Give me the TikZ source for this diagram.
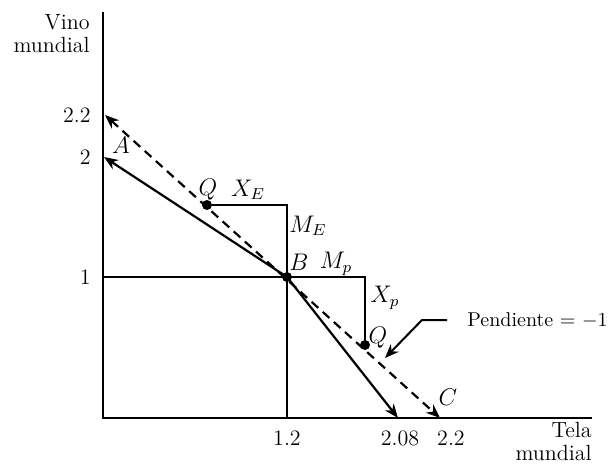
\documentclass[tikz,border=0pt]{standalone}
\usepackage{amsmath}
\usepackage{tikz}
\usetikzlibrary{positioning,arrows.meta,calc}
\tikzset{
  axis/.style={line width=1.1pt},
  guide/.style={line width=0.7pt},
  ar/.style={-{Stealth[length=7pt,width=5.5pt]},line width=1.1pt},
  dar/.style={{Stealth[length=7pt,width=5.5pt]}-{Stealth[length=7pt,width=5.5pt]},line width=1.1pt,dash pattern=on 4.5pt off 3pt},
  tick/.style={font=\fontsize{11}{12}\selectfont,inner sep=1pt},
  lab/.style={font=\fontsize{11}{11.5}\selectfont,inner sep=1pt},
  mlab/.style={font=\large,inner sep=1pt},
  pt/.style={circle,fill,inner sep=0pt,minimum size=5pt},
}

\begin{document}
\begin{tikzpicture}[x=0.5pt,y=-0.5pt]
  \useasboundingbox (0,0) rectangle (612,466);
  % axes
  \coordinate (O) at (103,418);
  \coordinate (ytop) at (103,12);
  \coordinate (xend) at (592,418);
  \draw[axis] (ytop) -- (O) -- (xend);
  % points
  \coordinate (A) at (104,157);
  \coordinate (Ad) at (105,115);
  \coordinate (B) at (287,277);
  \coordinate (S) at (398,418);
  \coordinate (C) at (440,418);
  \coordinate (yone) at (103,277);
  \coordinate (xone) at (287,418);
  \coordinate (cE) at (287,205);
  \coordinate (cP) at (365,277);
  \node[pt] (QE) at (207,205) {};
  \node[pt] (QP) at (365,345) {};
  \node[pt] (Bdot) at (B) {};
  % guide lines
  \draw[guide] (yone) -- (cP) -- (QP);
  \draw[guide] (QE) -- (cE) -- (xone);
  % lines
  \draw[dar] (Ad) -- (C);
  \draw[ar] (B) -- (A);
  \draw[ar] (B) -- (S);
  % pointer
  \coordinate (pend) at (447,320);
  \coordinate (bend) at (422,320);
  \coordinate (tip) at (385,358);
  \draw[ar,line width=1pt] (pend) -- (bend) -- (tip);
  \node[lab,font=\normalsize,anchor=west] (slope) at (465,320) {Pendiente = $-1$};
  % axis labels
  \node[lab,align=right,anchor=north east] (vino) at (92,12) {Vino\\mundial};
  \node[lab,align=right,anchor=north east] (tela) at (594,420) {Tela\\mundial};
  \node[tick,anchor=east] (y22) at (93,115) {2.2};
  \node[tick,anchor=east] (y2) at (93,157) {2};
  \node[tick,anchor=east] (y1) at (93,277) {1};
  \node[tick,anchor=north] (x12) at (287,428) {1.2};
  \node[tick,anchor=north] (x208) at (400,428) {2.08};
  \node[tick,anchor=north] (x22) at (451,428) {2.2};
  % point labels
  \node[mlab] (lA) at (121,145) {$A$};
  \node[mlab] (lB) at (299,262) {$B$};
  \node[mlab] (lC) at (448,397) {$C$};
  \node[mlab] (lQE) at (208,190) {$Q$};
  \node[mlab] (lXE) at (248,190) {$X_E$};
  \node[mlab] (lME) at (308,226) {$M_E$};
  \node[mlab] (lMp) at (336,264) {$M_p$};
  \node[mlab] (lXp) at (385,298) {$X_p$};
  \node[mlab] (lQP) at (378,338) {$Q$};
\end{tikzpicture}
\end{document}
